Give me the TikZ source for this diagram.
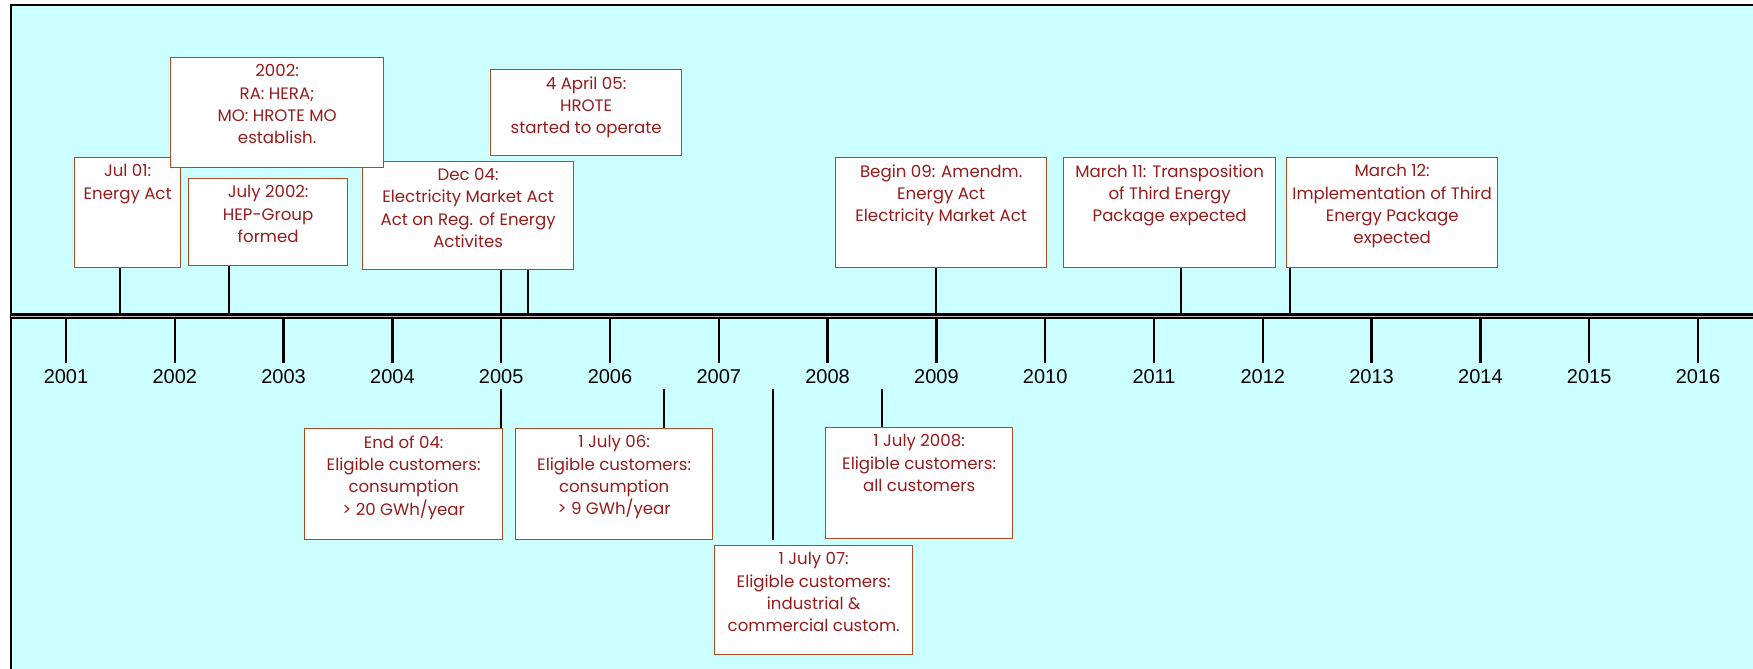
\documentclass[tikz,border=0pt]{standalone}
\usepackage{fontspec}
\setmainfont{Liberation Sans}
\newfontfamily\gothic{Poppins}
\usepackage{xcolor}
\definecolor{skyfill}{RGB}{204,255,255}
\definecolor{evred}{RGB}{150,28,28}
\definecolor{evframe}{RGB}{172,74,32}

\tikzset{
  evbox/.style={draw=evframe, fill=white, line width=0.65pt, anchor=north west, inner sep=0pt},
  evtext/.style={text=evred, align=center, anchor=north, inner sep=0pt, font=\gothic\fontsize{8.3}{11.2}\selectfont},
  conn/.style={line width=1.3pt},
  tick/.style={line width=1.25pt},
  yearlbl/.style={font=\fontsize{10}{12}\selectfont, inner sep=0pt},
  axisline/.style={line width=1.35pt, double=gray!50, double distance=0.5pt}
}

\begin{document}
\begin{tikzpicture}[x=0.5pt, y=-0.5pt]
\useasboundingbox (0,0) rectangle (1753,669);
\clip (0,0) rectangle (1753,669);
% background panel
\draw[line width=1.35pt, fill=skyfill] (11,5) rectangle (1790,700);

% years under the axis
\foreach \yr [count=\i from 0] in {2001,...,2016} {
  \draw[tick] (66+108.8*\i,319) -- (66+108.8*\i,363);
  \node[yearlbl] (yr\yr) at (66+108.8*\i,377) {\yr};
}

% where the events meet the axis
\coordinate (a01) at (120,313);
\coordinate (a02) at (229,313);
\coordinate (a04) at (501,313);
\coordinate (a05) at (528,313);
\coordinate (a09) at (936,313);
\coordinate (a11) at (1181,313);
\coordinate (a12) at (1290,313);
\coordinate (b04) at (501,389);
\coordinate (b06) at (664,389);
\coordinate (b07) at (773,389);
\coordinate (b08) at (882,389);

% events above the axis
\node[evbox, minimum width=53pt, minimum height=55pt] (jul01) at (74,157) {};
\node[evtext] (jul01t) at ([yshift=-3.5pt]jul01.north) {Jul 01:\\Energy Act};
\node[evbox, minimum width=105.5pt, minimum height=54pt] (dec04) at (362,161) {};
\node[evtext] (dec04t) at ([yshift=-3.5pt]dec04.north) {Dec 04:\\Electricity Market Act\\Act on Reg. of Energy\\Activites};
\node[evbox, minimum width=106.5pt, minimum height=55pt] (hera) at (170,57) {};
\node[evtext] (herat) at ([yshift=-3.5pt]hera.north) {2002:\\RA: HERA;\\MO: HROTE MO\\establish.};
\node[evbox, minimum width=79.5pt, minimum height=43.5pt] (hep) at (188,178) {};
\node[evtext] (hept) at ([yshift=-3.5pt]hep.north) {July 2002:\\HEP-Group\\formed};
\node[evbox, minimum width=95.5pt, minimum height=43pt] (apr05) at (490,69) {};
\node[evtext] (apr05t) at ([yshift=-3.5pt]apr05.north) {4 April 05:\\HROTE\\started to operate};
\node[evbox, minimum width=105.5pt, minimum height=55pt] (beg09) at (835,157) {};
\node[evtext] (beg09t) at ([yshift=-3.5pt]beg09.north) {Begin 09: Amendm.\\Energy Act\\Electricity Market Act};
\node[evbox, minimum width=106pt, minimum height=55pt] (mar11) at (1063,157) {};
\node[evtext] (mar11t) at ([yshift=-3.5pt]mar11.north) {March 11: Transposition\\of Third Energy\\Package expected};
\node[evbox, minimum width=105.5pt, minimum height=55pt] (mar12) at (1286,157) {};
\node[evtext] (mar12t) at ([yshift=-3.5pt]mar12.north) {March 12:\\Implementation of Third\\Energy Package\\expected};

\draw[conn] (jul01.south -| a01) -- (a01);
\draw[conn] (hep.south -| a02) -- (a02);
\draw[conn] (dec04.south -| a04) -- (a04);
\draw[conn] (dec04.south -| a05) -- (a05);
\draw[conn] (beg09.south -| a09) -- (a09);
\draw[conn] (mar11.south -| a11) -- (a11);
\draw[conn] (mar12.south -| a12) -- (a12);

% events below the axis
\node[evbox, minimum width=99pt, minimum height=55.5pt] (end04) at (304,428) {};
\node[evtext] (end04t) at ([yshift=-3.5pt]end04.north) {End of 04:\\Eligible customers:\\consumption\\> 20 GWh/year};
\node[evbox, minimum width=98.5pt, minimum height=55.5pt] (jul06) at (515,428) {};
\node[evtext] (jul06t) at ([yshift=-3.5pt]jul06.north) {1 July 06:\\Eligible customers:\\consumption\\> 9 GWh/year};
\node[evbox, minimum width=99pt, minimum height=54.5pt] (jul07) at (714,545) {};
\node[evtext] (jul07t) at ([yshift=-3.5pt]jul07.north) {1 July 07:\\Eligible customers:\\industrial \&\\commercial custom.};
\node[evbox, minimum width=93.5pt, minimum height=55.5pt] (jul08) at (825,427) {};
\node[evtext] (jul08t) at ([yshift=-3.5pt]jul08.north) {1 July 2008:\\Eligible customers:\\all customers};

\draw[conn] (b04) -- (b04 |- end04.north);
\draw[conn] (b06) -- (b06 |- jul06.north);
\draw[conn, shorten >=2.5pt] (b07) -- (b07 |- jul07.north);
\draw[conn] (b08) -- (b08 |- jul08.north);

% the time axis
\draw[axisline] (11,316) -- (1790,316);
\end{tikzpicture}
\end{document}
